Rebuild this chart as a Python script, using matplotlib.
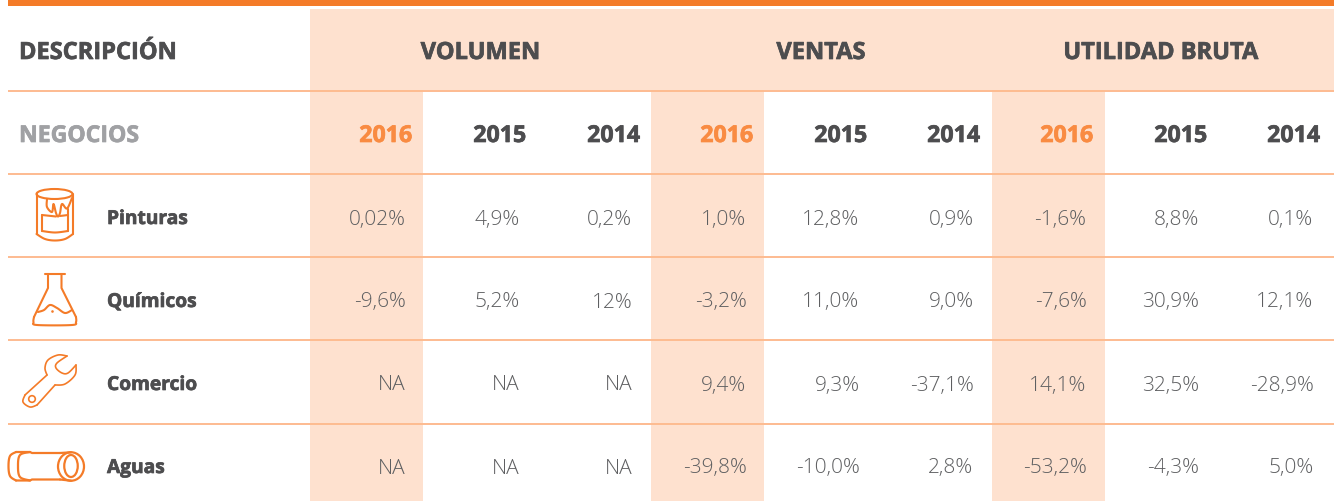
import matplotlib
matplotlib.use("Agg")
import matplotlib.pyplot as plt
import matplotlib.patheffects as pe
from matplotlib.patches import Rectangle, Ellipse, PathPatch, Circle
from matplotlib.path import Path
import numpy as np

groups = ["VOLUMEN", "VENTAS", "UTILIDAD BRUTA"]
years = ["2016", "2015", "2014"]
businesses = ["Pinturas", "Químicos", "Comercio", "Aguas"]
pinturas = ["0,02%", "4,9%", "0,2%", "1,0%", "12,8%", "0,9%", "-1,6%", "8,8%", "0,1%"]
quimicos = ["-9,6%", "5,2%", "12%", "-3,2%", "11,0%", "9,0%", "-7,6%", "30,9%", "12,1%"]
comercio = ["NA", "NA", "NA", "9,4%", "9,3%", "-37,1%", "14,1%", "32,5%", "-28,9%"]
aguas = ["NA", "NA", "NA", "-39,8%", "-10,0%", "2,8%", "-53,2%", "-4,3%", "5,0%"]
rows = [pinturas, quimicos, comercio, aguas]

W, H = 1334, 501
ORANGE = "#F47B28"; PEACH = "#FEE1CF"; LINE = "#FDBB90"; DARK = "#4D4D4F"; GREY = "#A0A1A4"; YEAR = "#F98B42"

fig = plt.figure(figsize=(W/100, H/100), dpi=100)
ax = fig.add_axes([0, 0, 1, 1])
ax.set_xlim(0, W); ax.set_ylim(H, 0); ax.axis("off")
plt.rcParams['font.family'] = ['Open Sans', 'DejaVu Sans']

ax.add_patch(Rectangle((310, 9), W-310, 81, fc=PEACH, ec="none", zorder=1))
for x0 in (310, 651, 992):
    ax.add_patch(Rectangle((x0, 90), 113, H-90, fc=PEACH, ec="none", zorder=1))
ax.add_patch(Rectangle((8, 0), W-8, 6.3, fc=ORANGE, ec="none", zorder=3))
for y in (90.5, 173.5, 257, 340, 423.5):
    ax.plot([8, W], [y, y], color=LINE, lw=1.4, zorder=2, solid_capstyle="butt")

def heavy(x, y, s, color, size, ha):
    ax.text(x, y, s, color=color, fontsize=size, ha=ha, va="center_baseline", zorder=4,
            fontfamily="Open Sans", fontweight="bold",
            path_effects=[pe.withStroke(linewidth=0.5, foreground=color)])

heavy(19, 50, "DESCRIPCIÓN", DARK, 17, "left")
heavy(19, 133, "NEGOCIOS", GREY, 16.6, "left")
for cx, g in zip((480.5, 821, 1161), groups):
    heavy(cx, 50, g, DARK, 17, "center")
hdr_right = [412, 526, 640, 753, 867, 980, 1093, 1207, 1320]
for i, xr in enumerate(hdr_right):
    heavy(xr, 133, years[i % 3], YEAR if i % 3 == 0 else DARK, 16.7, "right")

row_y = [216.5, 299.5, 382.5, 465.5]
val_right = [405, 519, 632, 746, 859, 973, 1086, 1199, 1313]
for yy, name, vals in zip(row_y, businesses, rows):
    heavy(107, yy, name, DARK, 13.8, "left")
    for xr, v in zip(val_right, vals):
        ax.text(xr + 0.5, yy + 0.5, v, color="#5E5F61", fontsize=15, ha="right", va="center_baseline",
                fontfamily="Open Sans", fontweight="light", zorder=4)

ic = dict(fc="none", ec=ORANGE, lw=1.5, zorder=5, capstyle="round", joinstyle="round")
def curve(pts):
    pts = np.asarray(pts, float)
    codes = [Path.MOVETO] + [Path.LINETO]*(len(pts)-1)
    ax.add_patch(PathPatch(Path(pts, codes), **ic))
def smooth(pts, n=14):
    p = np.asarray(pts, float); p = np.vstack([p[0], p, p[-1]])
    out = []
    for i in range(1, len(p)-2):
        for t in np.linspace(0, 1, n, endpoint=False):
            out.append(0.5*((2*p[i]) + (-p[i-1]+p[i+1])*t + (2*p[i-1]-5*p[i]+4*p[i+1]-p[i+2])*t**2
                            + (-p[i-1]+3*p[i]-3*p[i+1]+p[i+2])*t**3))
    out.append(p[-2])
    curve(out)

# paint can
ax.add_patch(Ellipse((54.5, 194), 36, 10, **ic))
curve([(36.5, 194), (36.5, 234)]); curve([(73, 194), (73, 234)])
smooth([(36.5, 234), (45, 239), (55, 240.5), (65, 239), (73, 234)])
curve([(42, 215), (42, 231)]); curve([(68, 209), (68, 231)])
smooth([(42, 231), (55, 232.5), (68, 231)])
curve([(42, 215), (56, 216.5)]); curve([(60, 216), (68, 215)])
smooth([(47, 199), (47, 207), (52, 212), (53.5, 204), (56, 213), (58, 216.5), (60, 213), (62, 204), (67, 208.5), (72, 198)])
# flask
curve([(44.5, 274), (65, 274)])
curve([(48, 274), (48, 288), (34, 317)]); curve([(61.5, 274), (61.5, 288), (76, 317)])
smooth([(34, 317), (33.5, 322), (37, 325), (72, 325), (76, 322), (76, 317)])
smooth([(38, 312), (44, 310), (50, 305), (57, 308), (65, 313), (72, 310)])
ax.add_patch(Circle((52.5, 311.5), 1.3, fc=ORANGE, ec="none", zorder=5))
# wrench
ic["lw"] = 1.2
smooth([(67, 356), (58, 355), (48, 360), (45, 368), (47, 375)])
curve([(47, 375), (25, 395)])
smooth([(25, 395), (23, 402), (30, 407), (37, 405)])
curve([(37, 405), (55, 385)])
smooth([(55, 385), (65, 384), (75, 375), (76, 365)])
smooth([(76, 365), (68, 373), (62, 373), (56, 368), (57, 363), (67, 356)])
ax.add_patch(Circle((32, 399), 3.3, **ic))
# pipe
ic["lw"] = 1.6
ax.add_patch(Ellipse((71, 466.5), 26, 28.5, **ic))
ax.add_patch(Ellipse((71, 466), 13.5, 22, **ic))
smooth([(30, 452), (20, 455), (18, 466), (20, 477), (30, 480.5)])
smooth([(16, 452), (10, 456), (8.5, 466), (10, 476), (16, 480.5)])
curve([(16, 452), (30, 452), (32, 453), (60, 453)])
curve([(16, 480.5), (30, 480.5), (32, 479.5), (60, 479.5)])
curve([(60, 453), (71, 452.3)]); curve([(60, 479.5), (71, 480.7)])

fig.savefig("out.png", dpi=100, facecolor="white")
